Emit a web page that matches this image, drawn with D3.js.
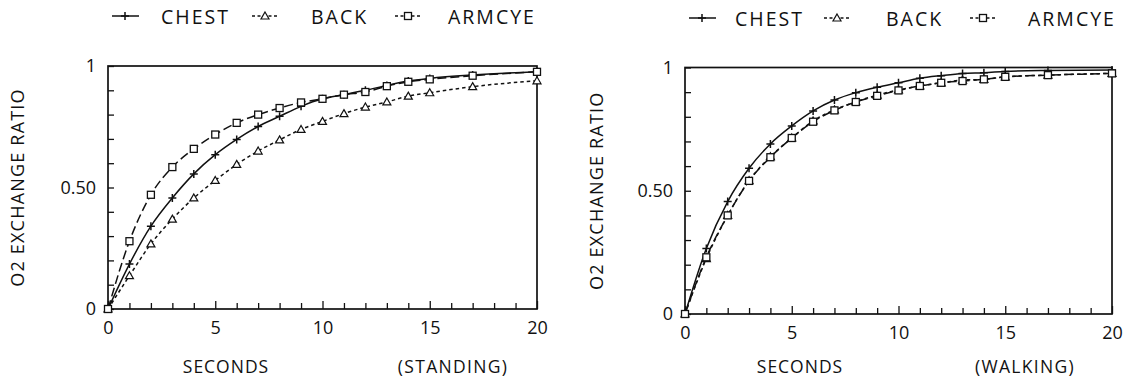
<!DOCTYPE html>
<html><head><meta charset="utf-8">
<script src="https://cdn.jsdelivr.net/npm/d3@7/dist/d3.min.js"></script>
<style>
body{margin:0;background:#fff;}
text{font-family:"Open Sans","DejaVu Sans",sans-serif;fill:#111;font-weight:500;}
</style></head>
<body><svg id="c" width="1131" height="385"></svg>
<script>
const seconds = [0,1,2,3,4,5,6,7,8,9,10,11,12,13,14,15,17,20];
const standingChest  = [0,0.185,0.341,0.457,0.556,0.635,0.698,0.751,0.793,0.834,0.865,0.882,0.900,0.920,0.938,0.949,0.963,0.976];
const standingBack   = [0,0.137,0.268,0.370,0.457,0.529,0.595,0.650,0.696,0.739,0.772,0.804,0.831,0.852,0.876,0.890,0.915,0.939];
const standingArmcye = [0,0.279,0.470,0.584,0.659,0.718,0.766,0.800,0.827,0.850,0.865,0.882,0.893,0.917,0.935,0.945,0.960,0.976];
const walkingChest   = [0,0.266,0.456,0.591,0.690,0.763,0.824,0.868,0.898,0.920,0.938,0.956,0.967,0.976,0.979,0.984,0.988,0.990];
const walkingBack    = [0,0.225,0.400,0.541,0.638,0.714,0.783,0.828,0.861,0.888,0.909,0.925,0.938,0.949,0.952,0.962,0.969,0.976];
const walkingArmcye  = [0,0.230,0.400,0.540,0.636,0.714,0.780,0.826,0.860,0.885,0.907,0.925,0.938,0.945,0.952,0.962,0.969,0.976];
const seriesNames = ["CHEST","BACK","ARMCYE"];
const xTickLabels = [0,5,10,15,20];
const yTickLabels = [0,0.5,1];
const yTickText = ["0","0.50","1"];
const yTitle = "O2 EXCHANGE RATIO";
const xTitle = "SECONDS";
const conditions = ["(STANDING)","(WALKING)"];

const svg = d3.select("#c");
const styles = [
  {dash:null, marker:"plus"},
  {dash:"3.5,3", marker:"tri"},
  {dash:"9,4", marker:"sq"}
];

function drawMarker(g, type, x, y){
  if(type==="plus"){
    g.append("path").attr("d",`M${x-4},${y}H${x+4}M${x},${y-4}V${y+4}`).attr("stroke","#111").attr("stroke-width",1.5);
  } else if(type==="tri"){
    g.append("path").attr("d",`M${x},${y-4}L${x+4},${y+3}L${x-4},${y+3}Z`).attr("fill","#fff").attr("stroke","#111").attr("stroke-width",1.2);
  } else {
    g.append("rect").attr("x",x-3.5).attr("y",y-3.5).attr("width",7).attr("height",7).attr("fill","#fff").attr("stroke","#111").attr("stroke-width",1.3);
  }
}

const panels = [
  {x0:108,x1:537,y0:309,y1:66, data:[standingChest,standingBack,standingArmcye], cond:conditions[0],
   titleX:17, secX:226, condX:453, legend:[112,161,252,311,395,448], legY:16},
  {x0:685,x1:1112,y0:314,y1:67.5, data:[walkingChest,walkingBack,walkingArmcye], cond:conditions[1],
   titleX:596, secX:800, condX:1025, legend:[689,735,824,886,970,1028], legY:18}
];

panels.forEach(p=>{
  const g = svg.append("g");
  const x = d3.scaleLinear().domain([0,20]).range([p.x0,p.x1]);
  const y = d3.scaleLinear().domain([0,1]).range([p.y0,p.y1]);
  g.append("rect").attr("x",p.x0).attr("y",p.y1).attr("width",p.x1-p.x0).attr("height",p.y0-p.y1)
    .attr("fill","none").attr("stroke","#111").attr("stroke-width",1.7);
  const xa = g.append("g").attr("transform",`translate(0,${p.y0})`)
    .call(d3.axisBottom(x).tickValues(d3.range(0,21)).tickSizeInner(-6).tickSizeOuter(0).tickFormat(""));
  xa.select(".domain").remove();
  xa.selectAll("line").attr("stroke","#111").attr("stroke-width",1.3);
  xa.selectAll(".tick").filter(d=>d%5===0).select("line").attr("y2",-8);
  const xl = g.append("g").attr("transform",`translate(0,${p.y0})`)
    .call(d3.axisBottom(x).tickValues(xTickLabels).tickSize(0).tickPadding(12));
  xl.select(".domain").remove();
  xl.selectAll("text").attr("font-size",18).attr("font-family","'Open Sans',sans-serif").attr("font-weight",500).attr("fill","#111");
  const ya = g.append("g").attr("transform",`translate(${p.x0},0)`)
    .call(d3.axisLeft(y).tickValues(d3.range(0,11).map(d=>d/10)).tickSizeInner(-6).tickSizeOuter(0).tickFormat(""));
  ya.select(".domain").remove();
  ya.selectAll("line").attr("stroke","#111").attr("stroke-width",1.3);
  const yl = g.append("g").attr("transform",`translate(${p.x0},0)`)
    .call(d3.axisLeft(y).tickValues(yTickLabels).tickSize(0).tickPadding(12).tickFormat((d,i)=>yTickText[i]));
  yl.select(".domain").remove();
  yl.selectAll("text").attr("font-size",18).attr("font-family","'Open Sans',sans-serif").attr("font-weight",500).attr("fill","#111");
  g.append("text").attr("transform",`translate(${p.titleX},${(p.y0+p.y1)/2}) rotate(-90)`)
    .attr("text-anchor","middle").attr("dominant-baseline","central").attr("font-size",18).attr("letter-spacing",1.2).text(yTitle);
  g.append("text").attr("x",p.secX).attr("y",373).attr("text-anchor","middle").attr("font-size",17.5).attr("letter-spacing",1).text(xTitle);
  g.append("text").attr("x",p.condX).attr("y",373).attr("text-anchor","middle").attr("font-size",17.5).attr("letter-spacing",1.3).text(p.cond);
  const line = d3.line().x((d,i)=>x(seconds[i])).y(d=>y(d)).curve(d3.curveMonotoneX);
  p.data.forEach((vals,k)=>{
    g.append("path").datum(vals).attr("d",line).attr("fill","none").attr("stroke","#111")
      .attr("stroke-width",1.5).attr("stroke-dasharray",styles[k].dash);
  });
  p.data.forEach((vals,k)=>{
    const mg = g.append("g");
    vals.forEach((v,i)=>{ if(i>0) drawMarker(mg, styles[k].marker, x(seconds[i]), y(v)); });
    drawMarker(mg, styles[k].marker, x(0), y(0));
  });
  for(let k=0;k<3;k++){
    const sx = p.legend[k*2], tx = p.legend[k*2+1];
    const lg = g.append("g");
    lg.append("line").attr("x1",sx).attr("x2",sx+27).attr("y1",p.legY).attr("y2",p.legY)
      .attr("stroke","#111").attr("stroke-width",1.5).attr("stroke-dasharray",styles[k].dash? "3,2.5":null);
    drawMarker(lg, styles[k].marker, sx+13, p.legY);
    lg.append("text").attr("x",tx).attr("y",p.legY).attr("dominant-baseline","central")
      .attr("font-size",19.5).attr("letter-spacing",2).text(seriesNames[k]);
  }
});
</script></body></html>
